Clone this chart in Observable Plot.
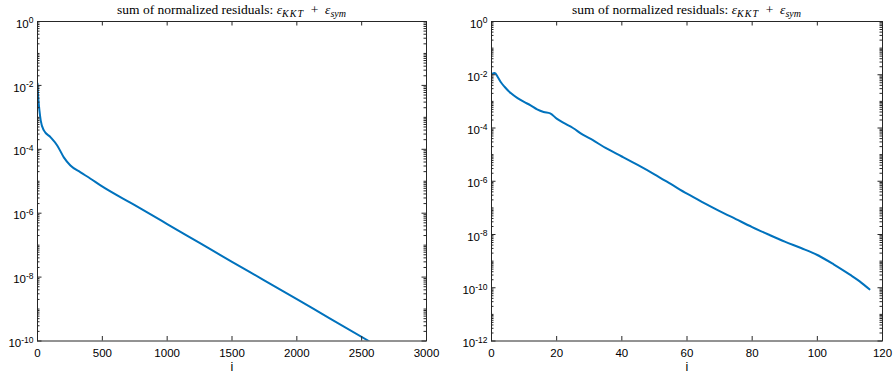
<!DOCTYPE html>
<html><head><meta charset="utf-8">
<script src="https://cdn.jsdelivr.net/npm/d3@7"></script>
<script src="https://cdn.jsdelivr.net/npm/@observablehq/plot@0.6"></script>
<style>
body{margin:0;background:#fff;}
#wrap{position:relative;width:895px;height:379px;overflow:hidden;}
.panel{position:absolute;top:0;}
</style>
</head><body><div id="wrap"><div class="panel" id="p1" style="left:0"></div><div class="panel" id="p2" style="left:447px"></div></div>
<script>
// ---- data ----
const leftIter = [0,3,7,15,25,49,100,152,203,254,332,409,486,750,1000,1250,1500,1745,2000,2250,2555];
const leftResidual = [1.15e-2,6.3e-3,3.55e-3,1.62e-3,7.9e-4,3.9e-4,2.4e-4,1.32e-4,5.6e-5,3.1e-5,1.9e-5,1.2e-5,7.4e-6,1.78e-6,4.57e-7,1.17e-7,3.0e-8,8.1e-9,2.04e-9,5.2e-10,1.0e-10];
const rightIter = [0,1,2,3,4,6,8,10,12,14,16,18,20,22,25,28,31,35,40,45,50,55,60,65,70,75,80,85,90,95,100,105,110,113,116];
const rightResidual = [1.05e-2,1.17e-2,7.9e-3,5.0e-3,3.55e-3,2.0e-3,1.32e-3,9.5e-4,7.1e-4,5.0e-4,4.0e-4,3.55e-4,2.25e-4,1.58e-4,1.0e-4,5.6e-5,3.55e-5,1.78e-5,8.5e-6,4.0e-6,1.82e-6,7.9e-7,3.4e-7,1.58e-7,7.6e-8,3.8e-8,1.9e-8,1.0e-8,5.4e-9,3.1e-9,1.7e-9,7.6e-10,3.1e-10,1.74e-10,8.7e-11];
const leftXTicks = [0,500,1000,1500,2000,2500,3000];
const rightXTicks = [0,20,40,60,80,100,120];
const leftYTicks = [1,1e-2,1e-4,1e-6,1e-8,1e-10];
const rightYTicks = [1,1e-2,1e-4,1e-6,1e-8,1e-10,1e-12];
const leftDecades = [-10,-9,-8,-7,-6,-5,-4,-3,-2,-1];
const rightDecades = [-12,-11,-10,-9,-8,-7,-6,-5,-4,-3,-2,-1];
const xLabel = "i";
const titleMain = "sum of normalized residuals: ";
const lineColor = "#0072BD";
const axisColor = "#262626";

function minorTicks(decades, majors) {
  const out = [];
  for (const d of decades) for (let k = 1; k <= 9; k++) {
    const v = +(k + "e" + d);
    if (!majors.some(m => Math.abs(Math.log10(m) - Math.log10(v)) < 1e-9)) out.push(v);
  }
  return out;
}

function panel(el, {iter, res, xDomain, yDomain, xTicks, yTicks, decades, width, marginLeft, marginRight}) {
  const height = 379, marginTop = 21, marginBottom = 38.5;
  const pw = width - marginLeft - marginRight;
  const ph = height - marginTop - marginBottom;
  const data = iter.map((x, k) => ({x, y: res[k]}));
  const minors = minorTicks(decades, yTicks);
  const svg = Plot.plot({
    width, height, marginTop, marginBottom, marginLeft, marginRight,
    style: {fontFamily: "'Liberation Sans', Arial, sans-serif", fontSize: "11.5px", background: "white", color: "#000", overflow: "visible"},
    x: {domain: xDomain},
    y: {type: "log", domain: yDomain},
    marks: [
      Plot.line(data, {x: "x", y: "y", stroke: lineColor, strokeWidth: 2, curve: "monotone-x", clip: true}),
      Plot.tickY(yTicks, {y: d => d, insetRight: pw - 4.5, stroke: axisColor}),
      Plot.tickY(yTicks, {y: d => d, insetLeft: pw - 4.5, stroke: axisColor}),
      Plot.tickY(minors, {y: d => d, insetRight: pw - 2.5, stroke: axisColor}),
      Plot.tickY(minors, {y: d => d, insetLeft: pw - 2.5, stroke: axisColor}),
      Plot.tickX(xTicks, {x: d => d, insetTop: ph - 4.5, stroke: axisColor}),
      Plot.tickX(xTicks, {x: d => d, insetBottom: ph - 4.5, stroke: axisColor}),
      Plot.frame({stroke: axisColor, strokeWidth: 1}),
      Plot.axisX(xTicks, {tickSize: 0, tickPadding: 8, label: null, fontSize: 11.5, fill: "#000", tickFormat: d => String(d)}),
      Plot.axisY(yTicks, {tickSize: 0, tickPadding: 4, label: null, dy: 2.5, fontSize: 11.5, fill: "#000",
        tickFormat: d => String(Math.round(Math.log10(d)))}),
      Plot.text([xLabel], {text: d => d, frameAnchor: "bottom", dy: 30, fontSize: 12.5, fill: "#000"})
    ]
  });
  const s = d3.select(svg);
  s.selectAll('g[aria-label="y-axis tick label"] text').each(function () {
    const t = d3.select(this);
    const e = t.text();
    t.text(null);
    t.append("tspan").text("10");
    t.append("tspan").attr("dy", "-0.5em").attr("font-size", "8.5px").text(e);
  });
  const t = s.append("text")
    .attr("x", marginLeft + pw / 2).attr("y", 14)
    .attr("text-anchor", "middle")
    .attr("font-family", "'Liberation Serif', 'Times New Roman', serif")
    .attr("font-size", 13.5).attr("fill", "#000");
  t.append("tspan").text(titleMain);
  t.append("tspan").attr("font-style", "italic").text("ε");
  t.append("tspan").attr("font-style", "italic").attr("font-size", 10).attr("letter-spacing", 1).attr("dy", 2.5).text("KKT");
  t.append("tspan").attr("dy", -2.5).text("\u2002+\u2002");
  t.append("tspan").attr("font-style", "italic").text("ε");
  t.append("tspan").attr("font-style", "italic").attr("font-size", 10).attr("dy", 2.5).text("sym");
  el.appendChild(svg);
}

panel(document.getElementById("p1"), {iter: leftIter, res: leftResidual, xDomain: [0, 3000], yDomain: [1e-10, 1],
  xTicks: leftXTicks, yTicks: leftYTicks, decades: leftDecades, width: 447, marginLeft: 37, marginRight: 21});
panel(document.getElementById("p2"), {iter: rightIter, res: rightResidual, xDomain: [0, 120], yDomain: [1e-12, 1],
  xTicks: rightXTicks, yTicks: rightYTicks, decades: rightDecades, width: 448, marginLeft: 44, marginRight: 13});
</script>
</body></html>
